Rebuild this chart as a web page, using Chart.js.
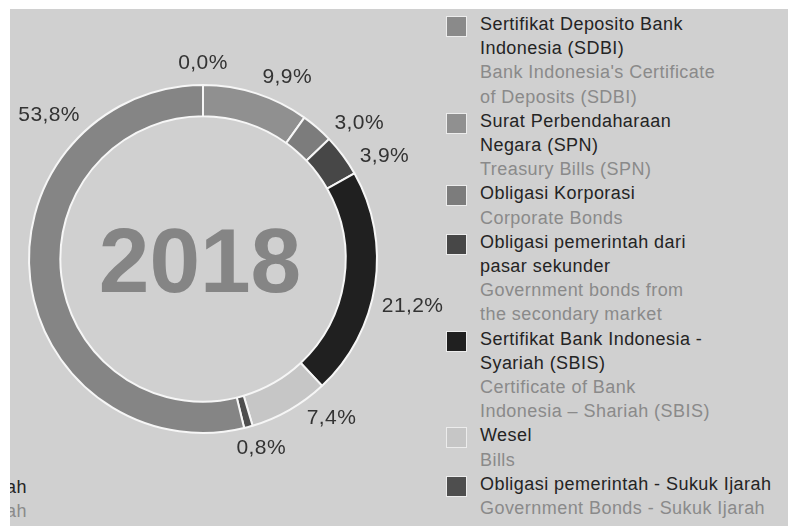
<!DOCTYPE html>
<html>
<head>
<meta charset="utf-8">
<script src="https://cdn.jsdelivr.net/npm/chart.js@4/dist/chart.umd.min.js"></script>
<style>
    html, body {
        margin: 0;
        padding: 0;
        background: #ffffff;
    }
    body {
        width: 788px;
        height: 526px;
        position: relative;
        overflow: hidden;
        font-family: 'Liberation Sans', Arial, sans-serif;
    }
    .panel {
        position: absolute;
        left: 10px;
        top: 9px;
        width: 778px;
        height: 517px;
        background: #d0d0d0;
        overflow: hidden;
    }
    #shareChart {
        position: absolute;
        left: 0;
        top: 0;
    }
    .legend {
        position: absolute;
        top: 3px;
        font-size: 18px;
        line-height: 24.2px;
        letter-spacing: 0.45px;
    }
    .legend-right {
        left: 436px;
    }
    .legend-item {
        position: relative;
        padding-left: 34px;
    }
    .legend-box {
        position: absolute;
        left: 0;
        top: 4px;
        width: 19px;
        height: 19px;
        border: 1px solid #ececec;
    }
    .legend-id,
    .legend-en {
        white-space: pre;
    }
    .legend-id {
        color: #242424;
    }
    .legend-en {
        color: #8a8a8a;
    }
    .legend-left {
        right: 761px;
        top: 466px;
        text-align: right;
    }
    .legend-left .legend-item {
        padding-left: 0;
    }
</style>
</head>
<body>
<div class="panel">
    <div class="legend legend-right" id="legendRight"></div>
    <div class="legend legend-left" id="legendLeft"></div>
</div>
<canvas id="shareChart" width="788" height="526"></canvas>

<script>
    // Komposisi surat berharga 2018, searah jarum jam dari atas
    const categories = [
        'Sertifikat Deposito Bank\nIndonesia (SDBI)',
        'Surat Perbendaharaan\nNegara (SPN)',
        'Obligasi Korporasi',
        'Obligasi pemerintah dari\npasar sekunder',
        'Sertifikat Bank Indonesia -\nSyariah (SBIS)',
        'Wesel',
        'Obligasi pemerintah - Sukuk Ijarah',
        'Obligasi pemerintah - Sukuk Mudharabah',
    ];
    const categoriesEn = [
        "Bank Indonesia's Certificate\nof Deposits (SDBI)",
        'Treasury Bills (SPN)',
        'Corporate Bonds',
        'Government bonds from\nthe secondary market',
        'Certificate of Bank\nIndonesia – Shariah (SBIS)',
        'Bills',
        'Government Bonds - Sukuk Ijarah',
        'Government Bonds - Sukuk Mudharabah',
    ];
    const shares = [0.0, 9.9, 3.0, 3.9, 21.2, 7.4, 0.8, 53.8];
    const yearLabel = '2018';

    const sliceColors = [
        '#8a8a8a',
        '#909090',
        '#7c7c7c',
        '#474747',
        '#202020',
        '#c6c6c6',
        '#4e4e4e',
        '#858585',
    ];

    // Legend: the last item sits in the column on the left, mostly cut off
    const legendRight = document.getElementById('legendRight');
    const legendLeft = document.getElementById('legendLeft');
    categories.forEach((name, i) => {
        const item = document.createElement('div');
        item.className = 'legend-item';
        const isLast = i === categories.length - 1;
        item.innerHTML =
            (isLast ? '' : `<span class="legend-box" style="background:${sliceColors[i]}"></span>`) +
            `<div class="legend-id">${name}</div>` +
            `<div class="legend-en">${categoriesEn[i]}</div>`;
        (isLast ? legendLeft : legendRight).appendChild(item);
    });

    const formatShare = (v) => v.toFixed(1).replace('.', ',') + '%';

    // Percentage labels outside the ring
    const arcLabels = {
        id: 'arcLabels',
        afterDatasetsDraw(chart, args, opts) {
            const { ctx } = chart;
            const values = chart.data.datasets[0].data;
            ctx.save();
            ctx.font = opts.font;
            ctx.letterSpacing = opts.letterSpacing;
            ctx.fillStyle = opts.color;
            ctx.textAlign = 'center';
            ctx.textBaseline = 'middle';
            chart.getDatasetMeta(0).data.forEach((arc, i) => {
                const { x, y, startAngle, endAngle, outerRadius } = arc.getProps(
                    ['x', 'y', 'startAngle', 'endAngle', 'outerRadius'],
                    true
                );
                const a = (startAngle + endAngle) / 2 + ((opts.nudge[i] || 0) * Math.PI) / 180;
                const text = formatShare(values[i]);
                const hw = ctx.measureText(text).width / 2;
                const r =
                    outerRadius +
                    opts.gap +
                    (opts.extra[i] || 0) +
                    Math.abs(Math.cos(a)) * hw +
                    Math.abs(Math.sin(a)) * opts.halfHeight;
                ctx.fillText(text, x + Math.cos(a) * r, y + Math.sin(a) * r);
            });
            ctx.restore();
        },
    };

    // Year in the middle of the doughnut
    const centerYear = {
        id: 'centerYear',
        afterDatasetsDraw(chart, args, opts) {
            const { ctx } = chart;
            const arc = chart.getDatasetMeta(0).data[0];
            ctx.save();
            ctx.font = opts.font;
            ctx.fillStyle = opts.color;
            ctx.textAlign = 'center';
            ctx.textBaseline = 'alphabetic';
            ctx.fillText(opts.text, arc.x + opts.dx, arc.y + opts.capHeight / 2);
            ctx.restore();
        },
    };

    const ctx = document.getElementById('shareChart').getContext('2d');
    new Chart(ctx, {
        type: 'doughnut',
        data: {
            labels: categories,
            datasets: [
                {
                    data: shares,
                    backgroundColor: sliceColors,
                    borderColor: '#f6f6f6',
                    borderWidth: 2,
                },
            ],
        },
        options: {
            responsive: false,
            animation: false,
            cutout: '82%',
            layout: {
                padding: { left: 28, right: 410, top: 84, bottom: 92 },
            },
            plugins: {
                legend: { display: false },
                tooltip: { enabled: false },
                arcLabels: {
                    font: '21px "Liberation Sans", Arial, sans-serif',
                    letterSpacing: '0.4px',
                    color: '#333333',
                    gap: 9,
                    halfHeight: 8,
                    nudge: [0, 7, 8, 7, 4, -9, -2, 50],
                    extra: [5, 0, 0, 0, 0, 0, 0, 0],
                },
                centerYear: {
                    text: yearLabel,
                    font: 'bold 91px "Liberation Sans", Arial, sans-serif',
                    color: '#858585',
                    capHeight: 65,
                    dx: -3,
                },
            },
        },
        plugins: [arcLabels, centerYear],
    });
</script>
</body>
</html>
